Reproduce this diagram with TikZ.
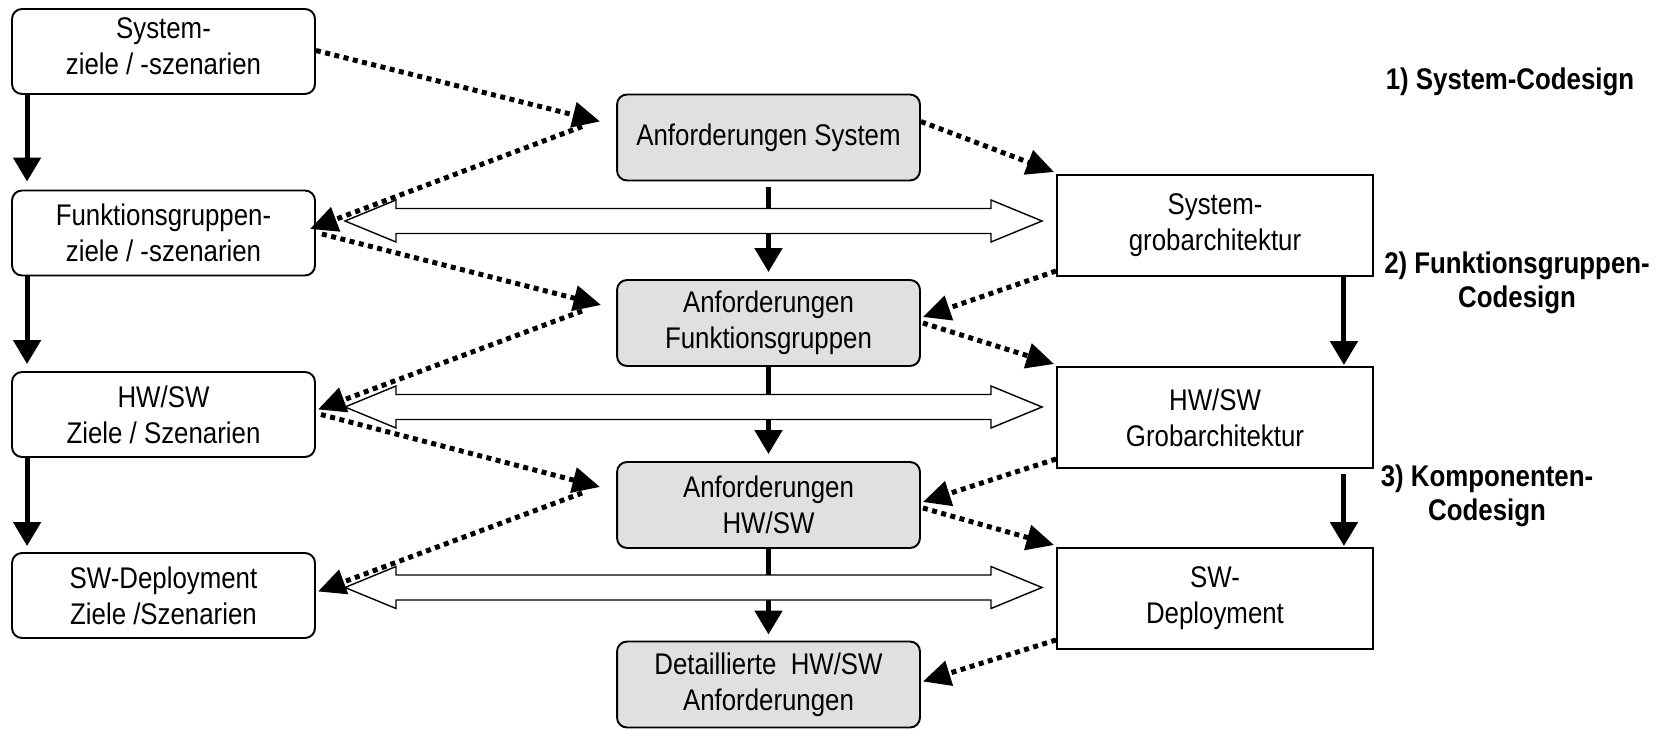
\documentclass[tikz,border=0pt]{standalone}
\usepackage{fontspec}
\setmainfont{Liberation Sans}[FakeStretch=0.865]
\usetikzlibrary{arrows.meta,calc}
\definecolor{boxgray}{RGB}{224,224,224}
\tikzset{
  rbox/.style={draw, line width=1.1pt, rounded corners=0.2cm, minimum width=6.06cm, minimum height=1.7cm, inner sep=0pt, align=center},
  gbox/.style={rbox, fill=boxgray, minimum height=1.72cm},
  sbox/.style={draw, line width=1.1pt, minimum width=6.32cm, minimum height=2.02cm, inner sep=0pt, align=center},
  lbl/.style={font=\fontsize{17}{19.5}\selectfont\bfseries, align=center, inner sep=0pt},
  solidarr/.style={line width=0.1cm, -{Triangle[length=0.48cm,width=0.54cm]}},
  dotarr/.style={line width=0.1cm, dash pattern=on 0.1cm off 0.09cm, -{Triangle[length=0.55cm,width=0.5cm]}},
  hollow/.style={draw, fill=white, line width=0.8pt, line join=miter}
}
\newcommand{\dblarrow}[3]{\draw[hollow] (#1,#3) -- (#1+51,#3-21) -- (#1+51,#3-12.5) -- (#2-51,#3-12.5) -- (#2-51,#3-21) -- (#2,#3) -- (#2-51,#3+21) -- (#2-51,#3+12.5) -- (#1+51,#3+12.5) -- (#1+51,#3+21) -- cycle;}
\begin{document}
\begin{tikzpicture}[x=0.02cm, y=-0.02cm, font=\fontsize{17}{20.5}\selectfont]
\fill[white] (0,0) rectangle (1666,729);
\useasboundingbox (0,0) rectangle (1666,729);
% left column
\node[rbox] (b1) at (163.5,51.5) {System-\\ziele / -szenarien\rule[-6pt]{0pt}{0pt}};
\node[rbox] (b2) at (163.5,233) {Funktionsgruppen-\\ziele / -szenarien};
\node[rbox] (b3) at (163.5,414.5) {HW/SW\\Ziele / Szenarien};
\node[rbox] (b4) at (163.5,595.5) {SW-Deployment\\Ziele /Szenarien};
% middle column
\node[gbox] (m1) at (768.5,137.5) {Anforderungen System};
\node[gbox] (m2) at (768.5,323) {Anforderungen\\Funktionsgruppen};
\node[gbox] (m3) at (768.5,505) {Anforderungen\\HW/SW};
\node[gbox] (m4) at (768.5,684.5) {Detaillierte\ \ HW/SW\\Anforderungen};
% right column
\node[sbox] (r1) at (1215,225.5) {System-\\grobarchitektur};
\node[sbox] (r2) at (1215,417.5) {HW/SW\\Grobarchitektur};
\node[sbox] (r3) at (1215,598.5) {SW-\\Deployment};
% labels
\node[lbl] (l1) at (1510,82) {1) System-Codesign};
\node[lbl] (l2) at (1517,283) {2) Funktionsgruppen-\\Codesign};
\node[lbl] (l3) at (1487,496) {3) Komponenten-\\Codesign};
% solid vertical arrows
\draw[solidarr] ($(b1.south west)+(16,0)$) -- ($(b2.north west)+(16,-8)$);
\draw[solidarr] ($(b2.south west)+(16,0)$) -- ($(b3.north west)+(16,-7)$);
\draw[solidarr] ($(b3.south west)+(16,0)$) -- ($(b4.north west)+(16,-6)$);
\draw[solidarr] ($(m1.south)+(0,6)$) -- ($(m2.north)+(0,-7)$);
\draw[solidarr] ($(m2.south)+(0,0)$) -- ($(m3.north)+(0,-7)$);
\draw[solidarr] ($(m3.south)+(0,0)$) -- ($(m4.north)+(0,-6)$);
\draw[solidarr] ($(r1.south east)+(-30,0)$) -- ($(r2.north east)+(-30,-1)$);
\draw[solidarr] ($(r2.south east)+(-30,5)$) -- ($(r3.north east)+(-30,-1)$);
% hollow double arrows
\dblarrow{345}{1042}{221}
\dblarrow{345}{1042}{407}
\dblarrow{345}{1042}{587.5}
% dotted arrows left-middle
\draw[dotarr] ($(b1.east)+(0,-1)$) -- ($(m1.west)+(-16,-16)$);
\draw[dotarr] ($(m1.west)+(-34,-11)$) -- ($(b2.east)+(-6,-4)$);
\draw[dotarr] ($(b2.east)+(6,1)$) -- ($(m2.west)+(-15,-18)$);
\draw[dotarr] ($(m2.west)+(-34,-12)$) -- ($(b3.east)+(2,-5)$);
\draw[dotarr] ($(b3.east)+(5,0)$) -- ($(m3.west)+(-16,-18)$);
\draw[dotarr] ($(m3.west)+(-34,-12)$) -- ($(b4.east)+(2,-4)$);
% dotted arrows middle-right
\draw[dotarr] ($(m1.east)+(0,-16)$) -- ($(r1.north west)+(-2,-2)$);
\draw[dotarr] ($(r1.south west)+(0,-6)$) -- ($(m2.east)+(2,-6)$);
\draw[dotarr] ($(m2.east)+(2,0)$) -- ($(r2.north west)+(-2,-2)$);
\draw[dotarr] ($(r2.south west)+(0,-10)$) -- ($(m3.east)+(2,-3)$);
\draw[dotarr] ($(m3.east)+(2,3)$) -- ($(r3.north west)+(-2,-2)$);
\draw[dotarr] ($(r3.south west)+(0,-10)$) -- ($(m4.east)+(2,-3)$);
\end{tikzpicture}
\end{document}
